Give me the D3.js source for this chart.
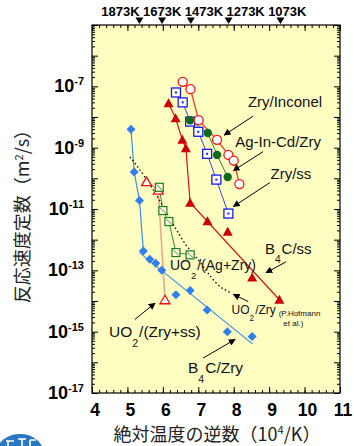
<!DOCTYPE html>
<html>
<head>
<meta charset="utf-8">
<script src="https://cdn.jsdelivr.net/npm/d3@7"></script>
<style>
  body { margin: 0; background: #fff; }
  svg { display: block; }
</style>
</head>
<body>
<script>
/* DATA
   x = inverse absolute temperature (10^4/K), y = reaction rate constant (m2/s)
   values */
const temperaturesK = [1873, 1673, 1473, 1273, 1073];
const xTickValues = [4, 5, 6, 7, 8, 9, 10, 11];
const yTickExponents = [-7, -9, -11, -13, -15, -17];

// Zry/Inconel (open red circles)
const zryInconelX = [6.56, 6.78, 7.01, 7.53, 7.85, 8.00, 8.16];
const zryInconelY = [1.4e-7, 8.1e-8, 7.9e-9, 1.8e-9, 5.8e-10, 3.8e-10, 6.5e-11];

// Zry/ss (open blue squares)
const zrySsX = [6.37, 6.56, 6.77, 7.00, 7.25, 7.51, 7.85];
const zrySsY = [6.3e-8, 3.0e-8, 7.1e-9, 3.3e-9, 6.3e-10, 9.1e-11, 7.1e-12];

// Ag-In-Cd/Zry (filled green circles)
const agInCdX = [6.77, 7.27, 7.53, 7.83];
const agInCdY = [7.8e-9, 3.0e-9, 5.8e-10, 1.1e-10];

// B4C/ss (filled red triangles), line drawn through the listed points only
const b4cSsX = [6.16, 6.36, 6.55, 6.65, 6.77, 7.26, 7.83, 8.52, 9.29];
const b4cSsY = [2.8e-8, 9.1e-9, 1.8e-9, 9.5e-10, 1.6e-11, 4.0e-12, 1.8e-12, 5.8e-14, 1.1e-14];
const b4cSsPath = [0, 1, 2, 3, 4, 8];

// B4C/Zry (blue diamonds) + fitted line
const b4cZryX = [5.10, 5.19, 5.34, 5.45, 5.63, 5.80, 5.97, 6.37, 6.77, 7.25, 7.82, 8.52];
const b4cZryY = [4.0e-9, 1.6e-10, 1.9e-11, 4.3e-13, 2.3e-13, 1.7e-13, 1.0e-13, 1.6e-14, 2.2e-14, 5.1e-15, 1.0e-15, 6.9e-16];
const b4cZryPath = [0, 1, 2, 3];
const b4cZryFitX = [5.35, 8.53];
const b4cZryFitY = [3.7e-13, 4.0e-16];

// UO2/(Zry+ss) (open red triangles)
const uo2ZrySsX = [5.54, 5.87, 6.06];
const uo2ZrySsY = [7.8e-11, 4.1e-11, 1.1e-14];

// UO2/(Ag+Zry) (open green squares)
const uo2AgZryX = [5.90, 6.00, 6.17, 6.37, 6.77];
const uo2AgZryY = [5.1e-11, 8.9e-12, 3.9e-12, 3.8e-13, 3.2e-13];

// UO2/Zry, P.Hofmann et al. (dotted curve)
const hofmannX = [5.07, 5.52, 5.92, 6.29, 6.65, 6.96, 7.25, 7.53, 7.90];
const hofmannY = [5.0e-10, 1.0e-10, 1.8e-11, 3.2e-12, 6.8e-13, 2.5e-13, 8.9e-14, 3.6e-14, 1.9e-14];

// annotations: [x, log10 y]
const labels = [
  { parts: [['Zry/Inconel']], at: [8.40, -7.50], size: 15 },
  { parts: [['Ag-In-Cd/Zry']], at: [8.04, -8.80], size: 15 },
  { parts: [['Zry/ss']], at: [9.04, -9.83], size: 15 },
  { parts: [['B'], ['4', 'sub'], ['C/ss']], at: [8.88, -12.30], size: 15 },
  { parts: [['UO'], ['2', 'sub'], ['/(Ag+Zry)']], at: [6.20, -12.83], size: 14 },
  { parts: [['UO'], ['2', 'sub'], ['/Zry']], at: [7.94, -14.27], size: 12 },
  { parts: [['(P.Hofmann']], at: [9.27, -14.38], size: 8 },
  { parts: [['et al.)']], at: [9.40, -14.73], size: 8 },
  { parts: [['UO'], ['2', 'sub'], ['/(Zry+ss)']], at: [4.48, -15.00], size: 15.5 },
  { parts: [['B'], ['4', 'sub'], ['C/Zry']], at: [6.71, -16.18], size: 15.5 },
];
const arrows = [
  { from: [8.55, -7.97], to: [7.73, -8.59] },
  { from: [8.83, -9.13], to: [7.99, -9.75] },
  { from: [9.02, -10.14], to: [7.99, -10.92] },
  { from: [9.48, -12.72], to: [8.91, -13.08] },
  { from: [8.41, -14.02], to: [7.99, -13.78] },
  { from: [5.21, -14.60], to: [5.78, -14.07] },
  { from: [7.14, -15.86], to: [8.04, -15.25] },
];

/* SETUP */
const width = 354;
const height = 446;
const plot = { left: 92, right: 340, top: 25, bottom: 393 };
const sansFont = "'Liberation Sans', Arial, sans-serif";
const cjkFont = "'Noto Sans CJK JP', sans-serif";

const svg = d3
  .select('body')
  .append('svg')
  .attr('width', width)
  .attr('height', height)
  .attr('viewBox', [0, 0, width, height]);

const xScale = d3.scaleLinear().domain([4, 11]).range([plot.left, plot.right]);
const yScale = d3.scaleLog().domain([1e-17, 1e-5]).range([plot.bottom, plot.top]);

const pts = (xs, ys) => xs.map((x, i) => [x, ys[i]]);

svg
  .append('defs')
  .append('marker')
  .attr('id', 'head')
  .attr('viewBox', '0 0 10 10')
  .attr('refX', 9)
  .attr('refY', 5)
  .attr('markerWidth', 7)
  .attr('markerHeight', 7)
  .attr('markerUnits', 'userSpaceOnUse')
  .attr('orient', 'auto')
  .append('path')
  .attr('d', 'M0 0 L10 5 L0 10 z')
  .attr('fill', '#000');

// plot background
svg
  .append('rect')
  .attr('x', plot.left)
  .attr('y', plot.top)
  .attr('width', plot.right - plot.left)
  .attr('height', plot.bottom - plot.top)
  .attr('fill', '#ffffc2');

/* AXES (ticks pointing inward on all four sides) */
const xMinor = d3.range(40, 111, 2).map(d => d / 10);
const yMajor = d3.range(-17, -4).map(e => Math.pow(10, e));
const yMinor = [];
d3.range(-17, -5).forEach(e => {
  for (let k = 2; k <= 9; k++) yMinor.push(k * Math.pow(10, e));
});

const axisGroup = svg.append('g').attr('stroke-width', 1);

const addAxis = (axis, transform) =>
  axisGroup
    .append('g')
    .attr('transform', transform)
    .call(axis)
    .call(g => g.select('.domain').remove())
    .call(g => g.selectAll('text').remove());

addAxis(d3.axisBottom(xScale).tickValues(xMinor).tickSize(-3), `translate(0 ${plot.bottom})`);
addAxis(d3.axisBottom(xScale).tickValues(xTickValues).tickSize(-6), `translate(0 ${plot.bottom})`);
addAxis(d3.axisTop(xScale).tickValues(xMinor).tickSize(-3), `translate(0 ${plot.top})`);
addAxis(d3.axisTop(xScale).tickValues(xTickValues).tickSize(-6), `translate(0 ${plot.top})`);
addAxis(d3.axisLeft(yScale).tickValues(yMinor).tickSize(-3), `translate(${plot.left} 0)`);
addAxis(d3.axisLeft(yScale).tickValues(yMajor).tickSize(-6), `translate(${plot.left} 0)`);
addAxis(d3.axisRight(yScale).tickValues(yMinor).tickSize(-3), `translate(${plot.right} 0)`);
addAxis(d3.axisRight(yScale).tickValues(yMajor).tickSize(-6), `translate(${plot.right} 0)`);

axisGroup.selectAll('.tick line').attr('stroke', '#000');

svg
  .append('rect')
  .attr('x', plot.left)
  .attr('y', plot.top)
  .attr('width', plot.right - plot.left)
  .attr('height', plot.bottom - plot.top)
  .attr('fill', 'none')
  .attr('stroke', '#000')
  .attr('stroke-width', 1.2);

// x tick labels
svg
  .append('g')
  .selectAll('text')
  .data(xTickValues)
  .join('text')
  .attr('x', d => xScale(d) + 3)
  .attr('y', plot.bottom + 23)
  .attr('text-anchor', 'middle')
  .attr('font-family', sansFont)
  .attr('font-weight', 'bold')
  .attr('font-size', 17.5)
  .text(d => d);

// y tick labels 10^n
const yLabels = svg
  .append('g')
  .selectAll('text')
  .data(yTickExponents)
  .join('text')
  .attr('x', 84)
  .attr('y', d => yScale(Math.pow(10, d)) + 6)
  .attr('text-anchor', 'end')
  .attr('font-family', sansFont)
  .attr('font-weight', 'bold')
  .attr('font-size', 18);
yLabels.append('tspan').text('10');
yLabels
  .append('tspan')
  .attr('dy', -7)
  .attr('font-size', 11)
  .text(d => '-' + Math.abs(d));

// top temperature markers
const tempGroup = svg.append('g');
tempGroup
  .selectAll('path')
  .data(temperaturesK)
  .join('path')
  .attr('d', d => {
    const cx = xScale(1e4 / d);
    return `M${cx - 4},17.5 L${cx + 4},17.5 L${cx},24 Z`;
  })
  .attr('fill', '#000');
tempGroup
  .selectAll('text')
  .data(temperaturesK)
  .join('text')
  .attr('x', (d, i) => 120.5 + i * 41.7)
  .attr('y', 16)
  .attr('text-anchor', 'middle')
  .attr('font-family', sansFont)
  .attr('font-weight', 'bold')
  .attr('font-size', 13)
  .text(d => d + 'K');

/* SERIES */
const lineGenerator = d3
  .line()
  .x(d => xScale(d[0]))
  .y(d => yScale(d[1]));

const plotGroup = svg.append('g');

const drawLine = (data, color, w) =>
  plotGroup
    .append('path')
    .attr('d', lineGenerator(data))
    .attr('fill', 'none')
    .attr('stroke', color)
    .attr('stroke-width', w);

const zryInconel = pts(zryInconelX, zryInconelY);
const zrySs = pts(zrySsX, zrySsY);
const agInCd = pts(agInCdX, agInCdY);
const b4cSs = pts(b4cSsX, b4cSsY);
const b4cZry = pts(b4cZryX, b4cZryY);
const uo2ZrySs = pts(uo2ZrySsX, uo2ZrySsY);
const uo2AgZry = pts(uo2AgZryX, uo2AgZryY);

drawLine(uo2ZrySs, '#f2a38a', 1.6);
drawLine(uo2AgZry, '#2f8a2f', 1);
drawLine(b4cZryPath.map(i => b4cZry[i]), '#3b8cf5', 1.2);
drawLine(pts(b4cZryFitX, b4cZryFitY), '#3b8cf5', 1.2);
drawLine(b4cSsPath.map(i => b4cSs[i]), '#dd1111', 1.2);
drawLine(zrySs, '#3344ee', 1);
drawLine(agInCd, '#2a8a2a', 1);
drawLine(zryInconel, '#ee4433', 1.4);

plotGroup
  .append('path')
  .attr('d', d3.line().x(d => xScale(d[0])).y(d => yScale(d[1])).curve(d3.curveMonotoneX)(pts(hofmannX, hofmannY)))
  .attr('fill', 'none')
  .attr('stroke', '#000')
  .attr('stroke-width', 1.3)
  .attr('stroke-dasharray', '1.5 2.5');

const px = d => xScale(d[0]);
const py = d => yScale(d[1]);

// open triangles
plotGroup
  .selectAll('.otri')
  .data(uo2ZrySs)
  .join('path')
  .attr('d', d => `M${px(d)},${py(d) - 4.5} L${px(d) + 5},${py(d) + 4} L${px(d) - 5},${py(d) + 4} Z`)
  .attr('fill', '#fff')
  .attr('stroke', '#ee1111')
  .attr('stroke-width', 1.3);

// open green squares with a slash
const greenSq = plotGroup.selectAll('.gsq').data(uo2AgZry).join('g');
greenSq
  .append('rect')
  .attr('x', d => px(d) - 4)
  .attr('y', d => py(d) - 4)
  .attr('width', 8)
  .attr('height', 8)
  .attr('fill', '#ffffe0')
  .attr('stroke', '#1f7a1f')
  .attr('stroke-width', 1.2);
greenSq
  .append('path')
  .attr('d', d => `M${px(d) - 3},${py(d) - 3} L${px(d) + 3},${py(d) + 3}`)
  .attr('stroke', '#1f7a1f')
  .attr('stroke-width', 0.8);

// blue diamonds
plotGroup
  .selectAll('.dia')
  .data(b4cZry)
  .join('path')
  .attr('d', d => `M${px(d)},${py(d) - 4.5} L${px(d) + 4.5},${py(d)} L${px(d)},${py(d) + 4.5} L${px(d) - 4.5},${py(d)} Z`)
  .attr('fill', '#2f7ff2');

// filled red triangles
plotGroup
  .selectAll('.ftri')
  .data(b4cSs)
  .join('path')
  .attr('d', d => `M${px(d)},${py(d) - 5} L${px(d) + 5},${py(d) + 4} L${px(d) - 5},${py(d) + 4} Z`)
  .attr('fill', '#cc0000');

// open blue squares with centre dot
const blueSq = plotGroup.selectAll('.bsq').data(zrySs).join('g');
blueSq
  .append('rect')
  .attr('x', d => px(d) - 4.5)
  .attr('y', d => py(d) - 4.5)
  .attr('width', 9)
  .attr('height', 9)
  .attr('fill', '#fff')
  .attr('stroke', '#1a1aee')
  .attr('stroke-width', 1.3);
blueSq
  .append('rect')
  .attr('x', d => px(d) - 1)
  .attr('y', d => py(d) - 1)
  .attr('width', 2)
  .attr('height', 2)
  .attr('fill', '#1a1aee');

// filled green circles
plotGroup
  .selectAll('.gc')
  .data(agInCd)
  .join('circle')
  .attr('cx', px)
  .attr('cy', py)
  .attr('r', 4.2)
  .attr('fill', '#0f6a1f');

// open red circles
plotGroup
  .selectAll('.rc')
  .data(zryInconel)
  .join('circle')
  .attr('cx', px)
  .attr('cy', py)
  .attr('r', 4.5)
  .attr('fill', '#fff')
  .attr('stroke', '#ff1010')
  .attr('stroke-width', 1.3);

/* ANNOTATIONS */
const annGroup = svg.append('g');
arrows.forEach(a => {
  annGroup
    .append('line')
    .attr('x1', xScale(a.from[0]))
    .attr('y1', yScale(Math.pow(10, a.from[1])))
    .attr('x2', xScale(a.to[0]))
    .attr('y2', yScale(Math.pow(10, a.to[1])))
    .attr('stroke', '#000')
    .attr('stroke-width', 1)
    .attr('marker-end', 'url(#head)');
});

labels.forEach(l => {
  const t = annGroup
    .append('text')
    .attr('x', xScale(l.at[0]))
    .attr('y', yScale(Math.pow(10, l.at[1])) + l.size * 0.36)
    .attr('font-family', sansFont)
    .attr('font-size', l.size)
    .attr('fill', '#111');
  l.parts.forEach(([s, kind], i) => {
    const span = t.append('tspan').text(s);
    if (kind === 'sub') {
      span.attr('dy', l.size * 0.6).attr('font-size', l.size * 0.68);
    } else if (i > 0 && l.parts[i - 1][1] === 'sub') {
      span.attr('dy', -l.size * 0.6).attr('dx', 1);
    }
  });
});

/* AXIS TITLES */
const yTitle = svg
  .append('text')
  .attr('transform', 'translate(29 212) rotate(-90)')
  .attr('text-anchor', 'middle')
  .attr('font-family', cjkFont)
  .attr('font-size', 18)
  .attr('fill', '#222');
yTitle.append('tspan').text('反応速度定数（m');
yTitle.append('tspan').attr('dy', -6).attr('font-size', 11).text('2');
yTitle.append('tspan').attr('dy', 6).text('/s）');

const xTitle = svg
  .append('text')
  .attr('x', 217)
  .attr('y', 441)
  .attr('text-anchor', 'middle')
  .attr('font-family', cjkFont)
  .attr('font-size', 18)
  .attr('fill', '#222');
xTitle.append('tspan').text('絶対温度の逆数（10');
xTitle.append('tspan').attr('dy', -7).attr('font-size', 11).text('4');
xTitle.append('tspan').attr('dy', 7).text('/K）');

/* LOGO (partial, bottom left) */
const logo = svg.append('g');
logo
  .append('ellipse')
  .attr('cx', 20)
  .attr('cy', 452)
  .attr('rx', 23)
  .attr('ry', 18)
  .attr('fill', '#2a78c4');
logo
  .append('path')
  .attr('d', 'M6 441 h8 M8 441 v6 M18 439 h8 M22 439 v8 M30 440 v6 M30 440 h6')
  .attr('stroke', '#fff')
  .attr('stroke-width', 1.6);
</script>
</body>
</html>
